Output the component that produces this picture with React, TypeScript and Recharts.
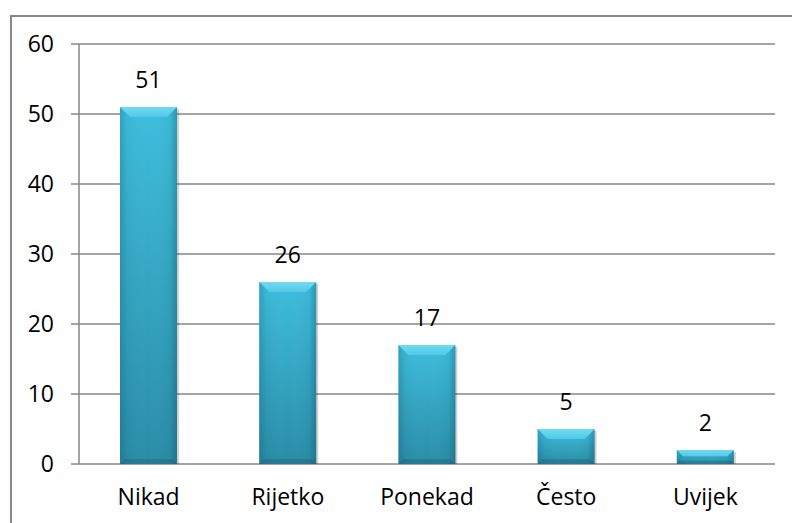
import React from 'react';
import { BarChart, Bar, XAxis, YAxis, CartesianGrid, LabelList } from 'recharts';

const categories = ['Nikad', 'Rijetko', 'Ponekad', 'Često', 'Uvijek'];
const counts = [51, 26, 17, 5, 2];
const yTicks = [0, 10, 20, 30, 40, 50, 60];
const boundaryTicks = [0, 1, 2, 3, 4, 5];

const chartData = categories.map((name, i) => ({ name, value: counts[i] }));

const FONT = '"Open Sans", "Liberation Sans", sans-serif';
const LINE = '#878787';

// bevelled bar in the old office style
const BevelBar = (props: any) => {
  const { x, y, width, height } = props;
  if (!height || height <= 0) return null;
  const b = Math.min(10, height / 2.2);
  return (
    <g>
      <rect x={x + 2} y={y + 2} width={width} height={height - 2} fill="rgba(0,0,0,0.18)" />
      <rect x={x} y={y} width={width} height={height} fill="url(#barBody)" />
      <rect x={x} y={y} width={width} height={height} fill="url(#barSides)" />
      <polygon
        points={`${x},${y} ${x + width},${y} ${x + width - b},${y + b} ${x + b},${y + b}`}
        fill="url(#barTop)"
      />
      <polygon
        points={`${x},${y + height} ${x + width},${y + height} ${x + width - b * 0.5},${y + height - b * 0.5} ${x + b * 0.5},${y + height - b * 0.5}`}
        fill="rgba(20,70,90,0.25)"
      />
    </g>
  );
};

const EmptyTick = () => <g />;

export default function App() {
  return (
    <div style={{ position: 'absolute', left: 0, top: 0, width: 792, height: 523, background: '#fff', fontFamily: FONT }}>
      <div
        style={{
          position: 'absolute',
          left: 10,
          top: 15,
          width: 800,
          height: 520,
          borderTop: `2px solid ${LINE}`,
          borderLeft: `2px solid ${LINE}`,
          boxSizing: 'border-box',
        }}
      />
      <div style={{ position: 'absolute', left: 0, top: 0 }}>
        <BarChart
          width={792}
          height={523}
          data={chartData}
          margin={{ top: 44, right: 17, left: 19, bottom: 19 }}
          barCategoryGap={0}
        >
          <defs>
            <linearGradient id="barBody" x1="0" y1="0" x2="0" y2="1">
              <stop offset="0%" stopColor="#3dbedd" />
              <stop offset="100%" stopColor="#2a8ca7" />
            </linearGradient>
            <linearGradient id="barSides" x1="0" y1="0" x2="1" y2="0">
              <stop offset="0%" stopColor="rgba(10,60,80,0.22)" />
              <stop offset="12%" stopColor="rgba(10,60,80,0.05)" />
              <stop offset="50%" stopColor="rgba(255,255,255,0)" />
              <stop offset="88%" stopColor="rgba(10,60,80,0.05)" />
              <stop offset="100%" stopColor="rgba(10,60,80,0.3)" />
            </linearGradient>
            <linearGradient id="barTop" x1="0" y1="0" x2="0" y2="1">
              <stop offset="0%" stopColor="#72daf1" />
              <stop offset="100%" stopColor="#4fcae7" />
            </linearGradient>
          </defs>
          <CartesianGrid vertical={false} stroke={LINE} strokeWidth={1.5} />
          <XAxis
            xAxisId="bounds"
            type="number"
            domain={[0, 5]}
            ticks={boundaryTicks}
            allowDataOverflow
            height={0}
            tick={EmptyTick}
            tickSize={7}
            tickLine={{ stroke: LINE, strokeWidth: 1.5 }}
            axisLine={{ stroke: LINE, strokeWidth: 1.5 }}
          />
          <XAxis
            dataKey="name"
            height={40}
            tickLine={false}
            axisLine={false}
            tickSize={0}
            tickMargin={25}
            tick={{ fill: '#000', fontSize: 23, fontFamily: FONT }}
            interval={0}
          />
          <YAxis
            width={60}
            domain={[0, 60]}
            ticks={yTicks}
            tickSize={8}
            tickMargin={17}
            tickLine={{ stroke: LINE, strokeWidth: 1.5 }}
            axisLine={{ stroke: LINE, strokeWidth: 1.5 }}
            tick={{ fill: '#000', fontSize: 23, fontFamily: FONT }}
          />
          <Bar dataKey="value" barSize={57} shape={BevelBar} isAnimationActive={false}>
            <LabelList dataKey="value" position="top" offset={19} fill="#000" fontSize={23} fontFamily={FONT} />
          </Bar>
        </BarChart>
      </div>
    </div>
  );
}
